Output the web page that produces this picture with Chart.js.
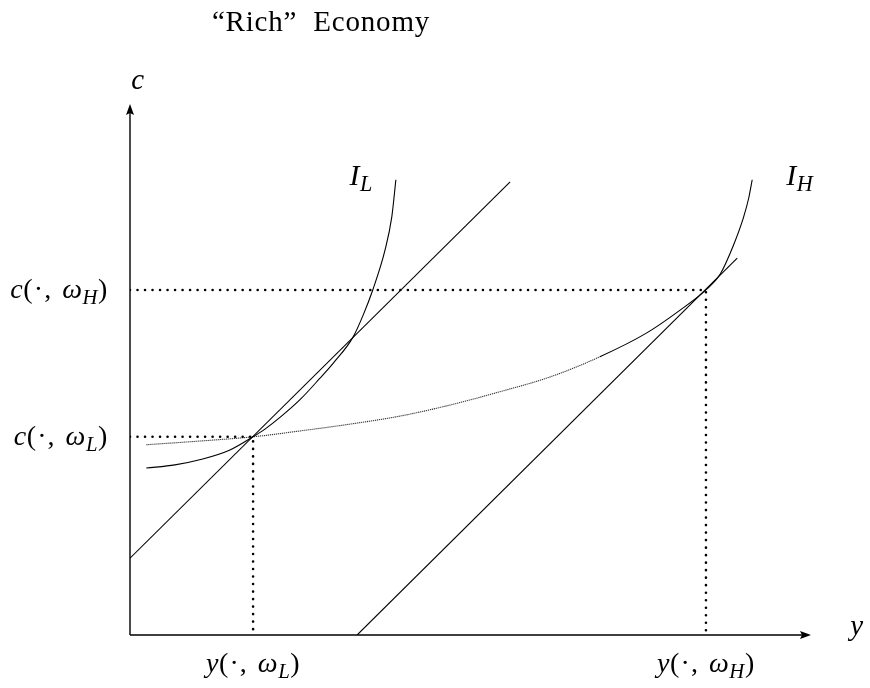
<!DOCTYPE html>
<html>
<head>
<meta charset="utf-8">
<script src="https://cdn.jsdelivr.net/npm/chart.js@4.4.1/dist/chart.umd.min.js"></script>
<style>
  html, body { margin: 0; padding: 0; background: #fff; }
  #wrap { width: 870px; height: 688px; position: relative; }
</style>
</head>
<body>
<div id="wrap"><canvas id="chart"></canvas></div>
<script>
// Title and axis names
const chartTitle = '\u201CRich\u201D  Economy';
const xAxisName = 'y';
const yAxisName = 'c';

// Equilibrium allocations (output y, consumption c)
const lowPoint  = { y: 1.81, c: 3.74 };
const highPoint = { y: 8.47, c: 6.51 };

// Tick labels at the equilibrium values ("_X" marks a subscript)
const xTickLabels = ['y(\u00B7, \u03C9_L)', 'y(\u00B7, \u03C9_H)'];
const yTickLabels = ['c(\u00B7, \u03C9_L)', 'c(\u00B7, \u03C9_H)'];

// Indifference curve of the low type
const curveLowX = [0.24, 0.66, 1.07, 1.47, 1.81, 1.99, 2.21, 2.50, 2.79, 2.99, 3.28, 3.43, 3.57, 3.75, 3.85, 3.91];
const curveLowC = [3.15, 3.21, 3.32, 3.49, 3.74, 3.89, 4.11, 4.44, 4.84, 5.13, 5.62, 6.04, 6.51, 7.26, 7.89, 8.59];

// Indifference curve of the high type
const curveHighX = [0.24, 1.03, 1.81, 2.50, 3.24, 3.97, 4.71, 5.44, 6.18, 6.91, 7.60, 8.09, 8.47, 8.68, 8.87, 9.02, 9.10, 9.15];
const curveHighC = [3.59, 3.66, 3.74, 3.85, 3.98, 4.13, 4.34, 4.59, 4.87, 5.25, 5.70, 6.13, 6.51, 6.81, 7.34, 7.87, 8.25, 8.59];

// Straight lines through each equilibrium (start and end points)
const lineLowX  = [0.00, 5.59];
const lineLowC  = [1.45, 8.55];
const lineHighX = [3.34, 8.93];
const lineHighC = [0.00, 7.11];

const curveLabels = ['I_L', 'I_H'];
const curveLabelPos = [{ y: 3.40, c: 8.50 }, { y: 9.85, c: 8.50 }];

const zip = (xs, ys) => xs.map((x, i) => ({ x: x, y: ys[i] }));

const FONT = '"Liberation Serif", "DejaVu Serif", serif';

// Draws a math-style string: letters italic, "_X" as subscript
function drawMath(ctx, str, x, y, size, align) {
  const tokens = [];
  for (let i = 0; i < str.length; i++) {
    let ch = str[i], sub = false;
    if (ch === '_') { sub = true; ch = str[++i]; }
    const italic = /\p{L}/u.test(ch);
    tokens.push({ ch, sub, italic });
  }
  const fontOf = t => (t.italic ? 'italic ' : '') + (t.sub ? size * 0.74 : size) + 'px ' + FONT;
  const gapOf = t => (t.ch === ',' ? size * 0.12 : t.ch === '(' || t.ch === '\u00B7' ? size * 0.04 : 0.6);
  let total = 0;
  tokens.forEach(t => { ctx.font = fontOf(t); total += ctx.measureText(t.ch).width + gapOf(t); });
  let cx = align === 'center' ? x - total / 2 : align === 'right' ? x - total : x;
  ctx.textBaseline = 'alphabetic';
  ctx.textAlign = 'left';
  tokens.forEach(t => {
    ctx.font = fontOf(t);
    ctx.fillText(t.ch, cx, y + (t.sub ? size * 0.22 : 0));
    cx += ctx.measureText(t.ch).width + gapOf(t);
  });
}

const decorations = {
  id: 'decorations',
  beforeDatasetsDraw(chart) {
    const { ctx, scales: { x, y } } = chart;
    const x0 = x.getPixelForValue(0), y0 = y.getPixelForValue(0);
    const xEnd = x.getPixelForValue(10), yEnd = y.getPixelForValue(10);
    ctx.save();
    ctx.strokeStyle = '#000';
    ctx.fillStyle = '#000';
    ctx.lineWidth = 1.4;
    ctx.beginPath();
    ctx.moveTo(x0, y0); ctx.lineTo(xEnd - 8, y0);
    ctx.moveTo(x0, y0); ctx.lineTo(x0, yEnd + 8);
    ctx.stroke();
    // arrow heads
    ctx.beginPath();
    ctx.moveTo(xEnd + 1, y0); ctx.lineTo(xEnd - 10, y0 - 4); ctx.lineTo(xEnd - 8, y0); ctx.lineTo(xEnd - 10, y0 + 4); ctx.closePath();
    ctx.fill();
    ctx.beginPath();
    ctx.moveTo(x0, yEnd - 1); ctx.lineTo(x0 - 4, yEnd + 10); ctx.lineTo(x0, yEnd + 8); ctx.lineTo(x0 + 4, yEnd + 10); ctx.closePath();
    ctx.fill();
    ctx.restore();
  },
  afterDraw(chart) {
    const { ctx, scales: { x, y } } = chart;
    const x0 = x.getPixelForValue(0), y0 = y.getPixelForValue(0);
    ctx.save();
    ctx.fillStyle = '#000';
    // title
    ctx.font = '29px ' + FONT;
    ctx.letterSpacing = '0.8px';
    ctx.textAlign = 'center';
    ctx.textBaseline = 'alphabetic';
    ctx.fillText(chartTitle, 321, 31);
    ctx.letterSpacing = '0px';
    // axis names
    drawMath(ctx, yAxisName, x0 + 8, y.getPixelForValue(10) - 16, 29, 'center');
    drawMath(ctx, xAxisName, x.getPixelForValue(10) + 47, y0, 29, 'center');
    // equilibrium labels
    drawMath(ctx, yTickLabels[0], x0 - 22, y.getPixelForValue(lowPoint.c) + 8, 28, 'right');
    drawMath(ctx, yTickLabels[1], x0 - 22, y.getPixelForValue(highPoint.c) + 8, 28, 'right');
    drawMath(ctx, xTickLabels[0], x.getPixelForValue(lowPoint.y), y0 + 37, 28, 'center');
    drawMath(ctx, xTickLabels[1], x.getPixelForValue(highPoint.y), y0 + 37, 28, 'center');
    // curve names
    drawMath(ctx, curveLabels[0], x.getPixelForValue(curveLabelPos[0].y), y.getPixelForValue(curveLabelPos[0].c), 30, 'center');
    drawMath(ctx, curveLabels[1], x.getPixelForValue(curveLabelPos[1].y), y.getPixelForValue(curveLabelPos[1].c), 30, 'center');
    ctx.restore();
  }
};

const dotted = { borderColor: '#000', borderWidth: 2.6, borderDash: [0.01, 7.5], borderCapStyle: 'round', pointRadius: 0, tension: 0, fill: false };
const solid = { borderColor: '#000', borderWidth: 1.1, pointRadius: 0, fill: false };

new Chart(document.getElementById('chart'), {
  type: 'line',
  data: {
    datasets: [
      Object.assign({ label: 'guide low', data: [{ x: 0, y: lowPoint.c }, { x: lowPoint.y, y: lowPoint.c }, { x: lowPoint.y, y: 0 }] }, dotted),
      Object.assign({ label: 'guide high', data: [{ x: 0, y: highPoint.c }, { x: highPoint.y, y: highPoint.c }, { x: highPoint.y, y: 0 }] }, dotted),
      Object.assign({ label: 'line low', data: zip(lineLowX, lineLowC), tension: 0 }, solid),
      Object.assign({ label: 'line high', data: zip(lineHighX, lineHighC), tension: 0 }, solid),
      Object.assign({ label: 'I_L', data: zip(curveLowX, curveLowC), cubicInterpolationMode: 'monotone' }, solid),
      Object.assign({
        label: 'I_H', data: zip(curveHighX, curveHighC), cubicInterpolationMode: 'monotone',
        segment: {
          borderDash: c => (c.p1.parsed.x <= 6.95 ? [1.2, 0.8] : undefined),
          borderColor: c => (c.p1.parsed.x <= 6.95 ? '#333' : '#000')
        }
      }, solid)
    ]
  },
  options: {
    responsive: true,
    maintainAspectRatio: false,
    animation: false,
    layout: { padding: { left: 130, right: 60, top: 105, bottom: 53 } },
    plugins: { legend: { display: false }, tooltip: { enabled: false }, title: { display: false } },
    scales: {
      x: { type: 'linear', min: 0, max: 10, display: false },
      y: { type: 'linear', min: 0, max: 10, display: false }
    }
  },
  plugins: [decorations]
});
</script>
</body>
</html>
